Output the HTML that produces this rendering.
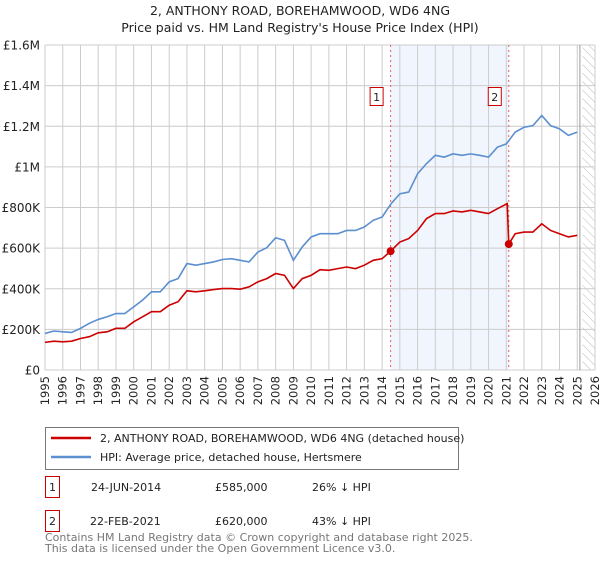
<!DOCTYPE html>
<html><head><meta charset="utf-8"><style>
body{margin:0;background:#fff;font-family:"Liberation Sans","DejaVu Sans",sans-serif;}
svg text{font-family:"DejaVu Sans","Liberation Sans",sans-serif;}
</style></head><body>
<svg id="c" width="600" height="560" viewBox="0 0 600 560" xmlns="http://www.w3.org/2000/svg">
<defs><pattern id="hatch" width="6" height="6" patternUnits="userSpaceOnUse" patternTransform="rotate(-45)"><line x1="0" y1="0" x2="0" y2="6" stroke="#bbb" stroke-width="1"/></pattern></defs>
<text x="300" y="15" text-anchor="middle" font-size="12.5" fill="#222">2, ANTHONY ROAD, BOREHAMWOOD, WD6 4NG</text>
<text x="300" y="32" text-anchor="middle" font-size="12.5" fill="#222">Price paid vs. HM Land Registry's House Price Index (HPI)</text>
<g id="plot"></g>
<g>
<rect x="45.5" y="427.5" width="413" height="42" fill="#fff" stroke="#777"/>
<line x1="51" y1="438" x2="91" y2="438" stroke="#cc0000" stroke-width="2.5"/>
<text x="100" y="442" font-size="11" fill="#222">2, ANTHONY ROAD, BOREHAMWOOD, WD6 4NG (detached house)</text>
<line x1="51" y1="457" x2="91" y2="457" stroke="#5b8fd0" stroke-width="2.5"/>
<text x="100" y="461" font-size="11" fill="#222">HPI: Average price, detached house, Hertsmere</text>
</g>
<g font-size="11" fill="#222">
<rect x="45.5" y="476.5" width="14" height="21" fill="#fff" stroke="#cc0000"/><text x="52.5" y="491" text-anchor="middle">1</text>
<text x="91" y="491">24-JUN-2014</text><text x="215" y="491">£585,000</text><text x="312" y="491">26% ↓ HPI</text>
<rect x="45.5" y="510.5" width="14" height="21" fill="#fff" stroke="#cc0000"/><text x="52.5" y="525" text-anchor="middle">2</text>
<text x="90" y="525">22-FEB-2021</text><text x="215" y="525">£620,000</text><text x="312" y="525">43% ↓ HPI</text>
</g>
<text x="45" y="541" font-size="11" fill="#777">Contains HM Land Registry data © Crown copyright and database right 2025.</text>
<text x="45" y="552" font-size="11" fill="#777">This data is licensed under the Open Government Licence v3.0.</text>
</svg>
<script>
const yTicks=[0,200000,400000,600000,800000,1000000,1200000,1400000,1600000];
const yTickLabels=["£0","£200K","£400K","£600K","£800K","£1M","£1.2M","£1.4M","£1.6M"];
const xYears=[1995,1996,1997,1998,1999,2000,2001,2002,2003,2004,2005,2006,2007,2008,2009,2010,2011,2012,2013,2014,2015,2016,2017,2018,2019,2020,2021,2022,2023,2024,2025,2026];
const hpiT=[1995,1995.5,1996,1996.5,1997,1997.5,1998,1998.5,1999,1999.5,2000,2000.5,2001,2001.5,2002,2002.5,2003,2003.5,2004,2004.5,2005,2005.5,2006,2006.5,2007,2007.5,2008,2008.5,2009,2009.5,2010,2010.5,2011,2011.5,2012,2012.5,2013,2013.5,2014,2014.5,2015,2015.5,2016,2016.5,2017,2017.5,2018,2018.5,2019,2019.5,2020,2020.5,2021,2021.5,2022,2022.5,2023,2023.5,2024,2024.5,2025];
const hpiV=[180,192,188,185,205,230,249,262,278,278,311,344,385,385,434,450,524,516,524,532,544,548,540,532,581,602,651,638,540,606,655,671,671,671,687,687,704,737,753,818,867,876,966,1016,1057,1048,1064,1057,1064,1057,1048,1097,1113,1171,1195,1203,1253,1203,1187,1155,1171];
const redT=[1995,1995.5,1996,1996.5,1997,1997.5,1998,1998.5,1999,1999.5,2000,2000.5,2001,2001.5,2002,2002.5,2003,2003.5,2004,2004.5,2005,2005.5,2006,2006.5,2007,2007.5,2008,2008.5,2009,2009.5,2010,2010.5,2011,2011.5,2012,2012.5,2013,2013.5,2014,2014.48,2015,2015.5,2016,2016.5,2017,2017.5,2018,2018.5,2019,2019.5,2020,2020.5,2021.05,2021.14,2021.5,2022,2022.5,2023,2023.5,2024,2024.5,2025];
const redV=[136,142,139,142,155,164,183,188,205,205,237,262,287,287,319,336,390,385,390,396,401,401,398,409,434,450,475,466,401,450,466,494,491,499,507,499,516,540,548,585,630,647,687,745,770,770,783,778,786,778,770,794,819,620,671,679,679,720,687,671,655,663];
const saleT=[2014.48,2021.14];
const saleV=[585,620];
const saleLabels=["1","2"];
const x0=45,x1=595,y0=370,y1=45;
const X=t=>x0+(t-1995)/(2026-1995)*(x1-x0);
const Y=v=>y0-v/1600000*(y0-y1);
const NS="http://www.w3.org/2000/svg";
const g=document.getElementById('plot');
function mk(tag,attrs,parent){const e=document.createElementNS(NS,tag);for(const k in attrs)e.setAttribute(k,attrs[k]);(parent||g).appendChild(e);return e;}
const shade=mk('rect',{x:X(saleT[0]),y:y1,width:X(saleT[1])-X(saleT[0]),height:y0-y1,fill:'#eef3fd',opacity:0.8});


const hat=mk('rect',{x:X(2025.3),y:y1,width:x1-X(2025.3),height:y0-y1,fill:'url(#hatch)'});


xYears.forEach(yr=>{
 const l=mk('line',{x1:X(yr),x2:X(yr),y1:y1,y2:y0,stroke:'#ccc','stroke-width':1});
 
 
 const t=mk('text',{x:0,y:0,'font-size':11.5,fill:'#222','text-anchor':'end',transform:`translate(${X(yr)+4},376) rotate(-90)`});
 t.textContent=yr;
 
 
});
yTicks.forEach((v,i)=>{
 const l=mk('line',{x1:x0,x2:x1,y1:Y(v),y2:Y(v),stroke:'#ccc','stroke-width':1});
 
 
 const t=mk('text',{x:40,y:Y(v)+4.5,'font-size':12,fill:'#222','text-anchor':'end'});
 t.textContent=yTickLabels[i];
 
 
});
const ln=mk('line',{x1:X(2025.15),x2:X(2025.15),y1:y1,y2:y0,stroke:'#999','stroke-width':1});


saleT.forEach((t,i)=>{
 const l=mk('line',{x1:X(t),x2:X(t),y1:y1,y2:y0,stroke:'#e06060','stroke-width':1,'stroke-dasharray':'2,3'});
 
 
});
const hp=mk('polyline',{points:hpiT.map((t,i)=>X(t)+','+Y(hpiV[i]*1000)).join(' '),fill:'none',stroke:'#5b8fd0','stroke-width':1.6});


const rp=mk('polyline',{points:redT.map((t,i)=>X(t)+','+Y(redV[i]*1000)).join(' '),fill:'none',stroke:'#cc0000','stroke-width':1.6});


saleT.forEach((t,i)=>{
 const c=mk('circle',{cx:X(t),cy:Y(saleV[i]*1000),r:4,fill:'#cc0000'});
 
 
 const b=mk('rect',{x:X(t)-20.5,y:87.5,width:13,height:18,fill:'#fff',stroke:'#cc0000'});
 
 
 const tx=mk('text',{x:X(t)-14,y:101,'font-size':11,fill:'#222','text-anchor':'middle'});
 tx.textContent=saleLabels[i];
 
 
});
</script>
</body></html>
